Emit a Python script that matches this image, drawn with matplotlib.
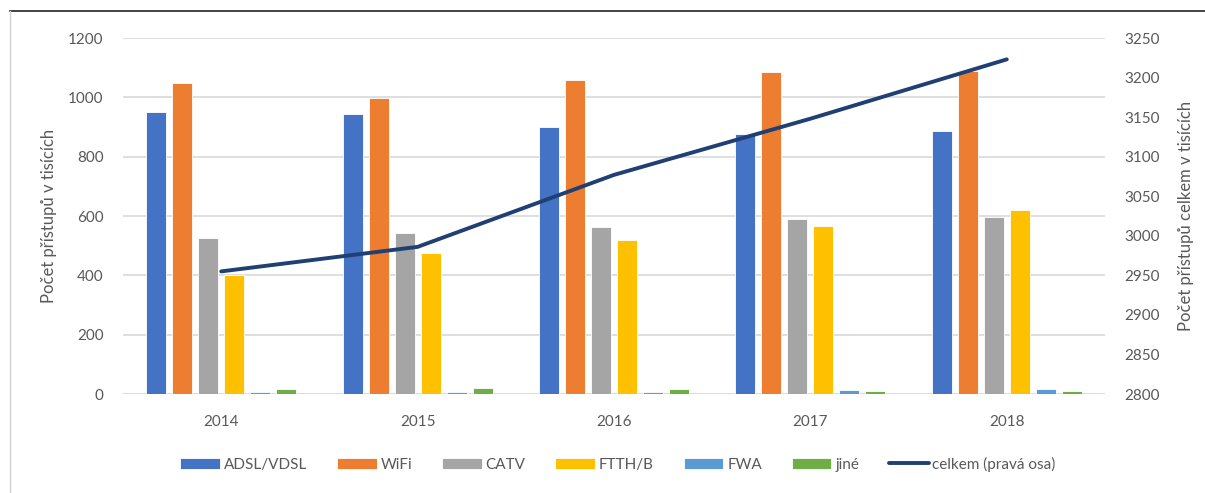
import numpy as np
import matplotlib
matplotlib.use("Agg")
import matplotlib.pyplot as plt
from matplotlib.lines import Line2D

plt.rcParams['font.family'] = ['Lato', 'DejaVu Sans']

# data (v tisících)
roky = ['2014', '2015', '2016', '2017', '2018']
adsl = [951, 943, 901, 875, 887]
wifi = [1049, 998, 1058, 1084, 1090]
catv = [527, 542, 564, 589, 598]
ftth = [401, 476, 519, 567, 620]
fwa = [8, 8, 8, 13, 17]
jine = [16, 20, 16, 9, 9]
celkem = [2955, 2986, 3077, 3148, 3223]

serie = [('ADSL/VDSL', adsl, '#4472C4'),
         ('WiFi', wifi, '#ED7D31'),
         ('CATV', catv, '#A5A5A5'),
         ('FTTH/B', ftth, '#FFC000'),
         ('FWA', fwa, '#5B9BD5'),
         ('jiné', jine, '#70AD47')]

seda = '#595959'
fig = plt.figure(figsize=(12.05, 4.93), dpi=100)
ax = fig.add_axes([0.1021, 0.2008, 0.8149, 0.7221])
x = np.arange(len(roky))
krok = 0.1324
sirka = 0.102
handles = []
for i, (nazev, vals, barva) in enumerate(serie):
    b = ax.bar(x + (i - 2.5) * krok, vals, sirka, color=barva,
               edgecolor='white', linewidth=0.6, label=nazev, zorder=2)
    handles.append(b)

ax.set_xlim(-0.5, 4.5)
ax.set_ylim(0, 1200)
ax.set_yticks(range(0, 1201, 200))
ax.set_xticks(x)
ax.set_xticklabels(roky)
ax.grid(axis='y', color='#D9D9D9', linewidth=1.2, zorder=0)
for s in ax.spines.values():
    s.set_visible(False)
ax.axhline(0, color='#D9D9D9', linewidth=1.2, zorder=1)
ax.tick_params(axis='both', length=0, labelsize=11, labelcolor=seda)
ax.tick_params(axis='y', pad=14)
ax.tick_params(axis='x', pad=15)
ax.set_ylabel('Počet přístupů v tisících', fontsize=12, color=seda, labelpad=8)

ax2 = ax.twinx()
ln, = ax2.plot(x, celkem, color='#203F73', linewidth=2.8,
               solid_capstyle='round', label='celkem (pravá osa)', zorder=3)
ax2.set_ylim(2800, 3250)
ax2.set_yticks(range(2800, 3251, 50))
for s in ax2.spines.values():
    s.set_visible(False)
ax2.tick_params(axis='y', length=0, labelsize=11, labelcolor=seda, pad=14)
ax2.set_ylabel('Počet přístupů celkem v tisících', fontsize=12, color=seda,
               labelpad=13)

handles.append(ln)
leg = fig.legend(handles=handles, labels=[h.get_label() for h in handles],
                 loc='center', bbox_to_anchor=(0.513, 0.058), ncol=7,
                 frameon=False, fontsize=11, handlelength=2.6,
                 handleheight=0.8, columnspacing=1.95, handletextpad=0.25)
for t in leg.get_texts():
    t.set_color(seda)

# okraj snímku
fig.add_artist(Line2D([0.008, 1.0], [0.978, 0.978], color='#222222', linewidth=1.2))
fig.add_artist(Line2D([0.008, 0.008], [0.0, 0.978], color='#D0D0D0', linewidth=1))

fig.savefig('out.png', dpi=100)
